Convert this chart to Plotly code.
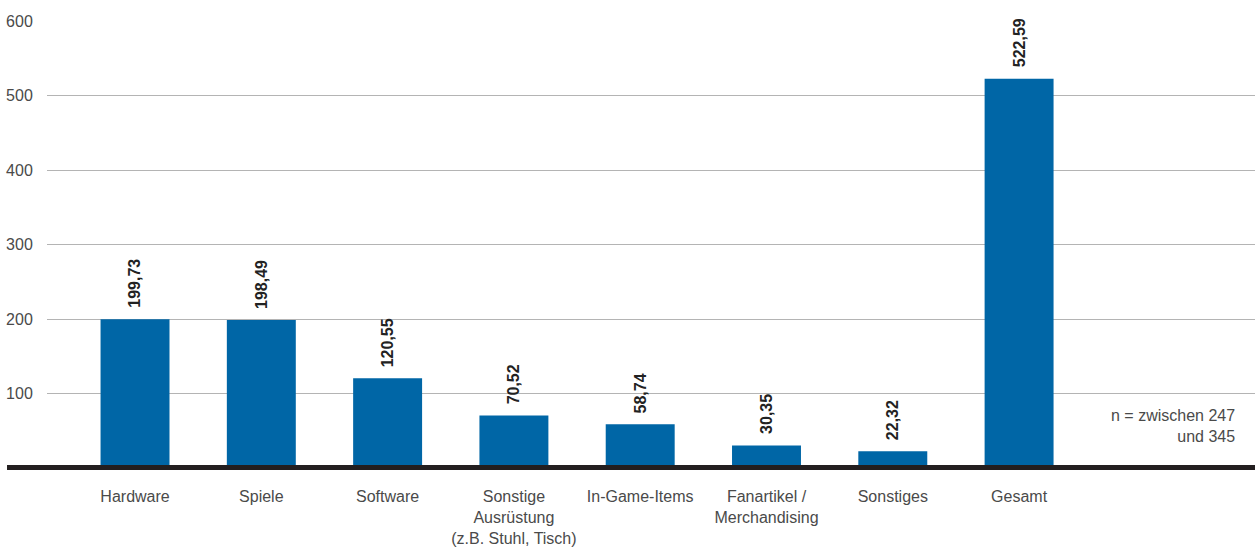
import plotly.graph_objects as go

# Ausgaben je Kategorie (Euro)
categories = ["Hardware", "Spiele", "Software", "Sonstige<br>Ausrüstung<br>(z.B. Stuhl, Tisch)",
              "In-Game-Items", "Fanartikel /<br>Merchandising", "Sonstiges", "Gesamt"]
values = [199.73, 198.49, 120.55, 70.52, 58.74, 30.35, 22.32, 522.59]
y_ticks = [100, 200, 300, 400, 500, 600]
note = "n = zwischen 247<br>und 345"

BLUE = "#0066a6"
FONT = "Liberation Sans, Arial, sans-serif"
TEXT_GREY = "#4a4a4a"

x_pos = list(range(len(categories)))

fig = go.Figure(
    go.Bar(
        x=x_pos,
        y=values,
        width=0.546,
        marker=dict(color=BLUE, line=dict(width=0)),
        hoverinfo="skip",
    )
)

# Value labels, rotated, just above each bar
for xi, v in zip(x_pos, values):
    fig.add_annotation(
        x=xi, y=v, xref="x", yref="y",
        text=f"{v:.2f}".replace(".", ","),
        textangle=-90, showarrow=False,
        xanchor="center", yanchor="bottom", yshift=9,
        font=dict(family=FONT, size=16, color="#222222", weight="bold"),
    )

# Sample size note
fig.add_annotation(
    x=0.985, y=57, xref="paper", yref="y",
    text=note, showarrow=False, align="right",
    xanchor="right", yanchor="middle",
    font=dict(family=FONT, size=16, color=TEXT_GREY),
)

# Heavy baseline that extends past the grid on the left
fig.add_shape(
    type="line", xref="paper", yref="paper",
    x0=-0.0331, x1=1, y0=0.001, y1=0.001,
    line=dict(color="#231f20", width=5), layer="above",
)

fig.update_layout(
    width=1255, height=547,
    margin=dict(l=47, r=0, t=21, b=79),
    paper_bgcolor="white", plot_bgcolor="white",
    showlegend=False,
    font=dict(family=FONT, size=16, color=TEXT_GREY),
    xaxis=dict(
        tickmode="array", tickvals=x_pos, ticktext=categories,
        range=[-0.697, 8.868], showgrid=False, zeroline=False, showline=False,
        ticks="outside", ticklen=14, tickcolor="rgba(0,0,0,0)",
        tickfont=dict(family=FONT, size=16, color=TEXT_GREY),
        fixedrange=True,
    ),
    yaxis=dict(
        range=[0, 600], tickmode="array", tickvals=y_ticks,
        showgrid=True, gridcolor="#b4b4b4", gridwidth=1,
        zeroline=False, showline=False,
        ticks="outside", ticklen=10, tickcolor="rgba(0,0,0,0)",
        tickfont=dict(family=FONT, size=16, color=TEXT_GREY),
        fixedrange=True,
    ),
)

fig.write_html("out.html")
